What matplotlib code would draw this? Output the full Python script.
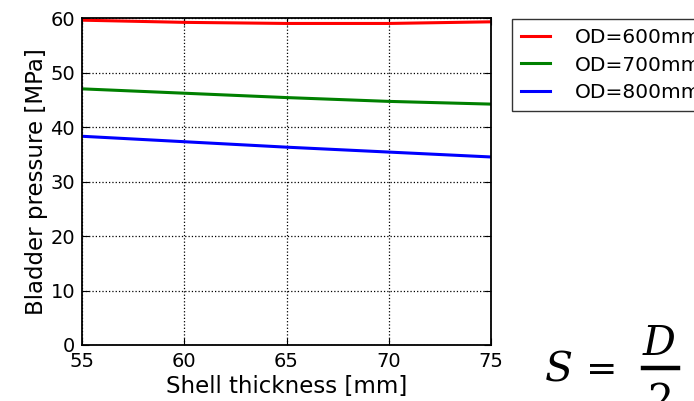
import matplotlib
matplotlib.use("Agg")
import matplotlib.pyplot as plt
from matplotlib.lines import Line2D

# shell thickness [mm] vs bladder pressure [MPa]
thickness = [55, 60, 65, 70, 75]
od_labels = ["OD=600mm", "OD=700mm", "OD=800mm"]
pressure_600 = [59.6, 59.2, 59.0, 59.0, 59.3]
pressure_700 = [47.0, 46.2, 45.4, 44.7, 44.2]
pressure_800 = [38.3, 37.3, 36.3, 35.4, 34.5]
colors = ["#ff0000", "#008000", "#0000ff"]

W, H = 694, 401
fig = plt.figure(figsize=(W / 100, H / 100), dpi=100)
ax = fig.add_axes([82 / W, 1 - 345 / H, (491 - 82) / W, (345 - 18) / H])

for ys, lab, c in zip([pressure_600, pressure_700, pressure_800], od_labels, colors):
    ax.plot(thickness, ys, color=c, lw=2.2, label=lab)

ax.set_xlim(55, 75)
ax.set_ylim(0, 60)
ax.set_xticks([55, 60, 65, 70, 75])
ax.set_yticks(range(0, 61, 10))
ax.grid(True, color="black", linestyle=":", linewidth=0.9)
ax.tick_params(direction="in", top=True, right=True, length=5, labelsize=14, pad=5)
for s in ax.spines.values():
    s.set_linewidth(1.3)
ax.set_xlabel("Shell thickness [mm]", fontsize=16.5, labelpad=3)
ax.set_ylabel("Bladder pressure [MPa]", fontsize=16.5, labelpad=2)

leg = fig.legend(loc="upper left", bbox_to_anchor=(512 / W, 1 - 19 / H),
                 borderaxespad=0, fontsize=14.5, handlelength=1.45,
                 handletextpad=1.2, borderpad=0.45, labelspacing=0.42,
                 fancybox=False, frameon=True)
leg.get_frame().set_edgecolor("black")
leg.get_frame().set_linewidth(1.0)

# the formula on the slide next to the chart: S = D / 2
fig.text(545 / W, 1 - 382 / H, "S", family="DejaVu Serif", style="italic",
         fontsize=29.5, ha="left", va="baseline")
fig.text(602 / W, 1 - 381 / H, "=", family="DejaVu Serif",
         fontsize=27, ha="center", va="baseline")
fig.text(659 / W, 1 - 355 / H, "D", family="DejaVu Serif", style="italic",
         fontsize=29.5, ha="center", va="baseline")
fig.add_artist(Line2D([643 / W, 678 / W], [1 - 368 / H, 1 - 368 / H],
                      transform=fig.transFigure, color="black", lw=3.2))
fig.text(660 / W, 1 - 413 / H, "2", family="DejaVu Serif",
         fontsize=29.5, ha="center", va="baseline")

fig.savefig("out.png", dpi=100)
